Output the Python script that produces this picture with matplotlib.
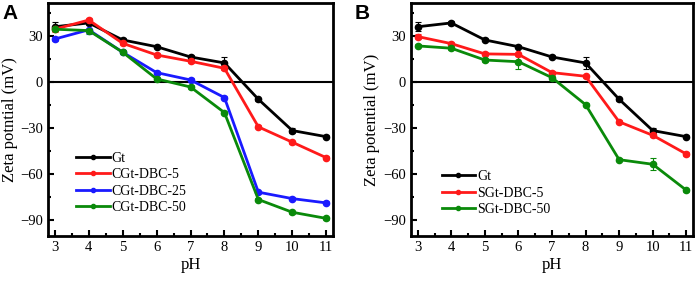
import matplotlib
matplotlib.use("Agg")
import matplotlib.pyplot as plt
from matplotlib.ticker import MultipleLocator
from matplotlib.lines import Line2D

ph = [3, 4, 5, 6, 7, 8, 9, 10, 11]

gt = [36, 38.5, 27.4, 23, 16.3, 12.4, -11.3, -31.7, -35.7]
gt_err = [3, 1.5, 1, 1, 1, 4, 1, 1.5, 1]

cgt5 = [34.4, 40.4, 25.2, 17.6, 13.5, 8.9, -29.3, -39.3, -49.4]
cgt5_err = [1.5, 1.5, 1, 1, 1, 1, 1, 1, 1]
cgt25 = [28, 34, 19.4, 6.1, 1.3, -10.2, -71.9, -76.1, -78.9]
cgt25_err = [1, 3, 1, 1, 1, 1, 1, 1, 1]
cgt50 = [34.4, 33.5, 19.4, 2, -3.3, -20, -76.7, -85, -89]
cgt50_err = [1, 1, 1, 1, 1, 1, 1, 1, 1]

sgt5 = [29.6, 25, 18.3, 18, 6.1, 3.7, -26, -34.8, -47]
sgt5_err = [1.5, 1, 1, 1, 1, 1, 1, 1, 1]
sgt50 = [23.5, 22, 14.3, 13.2, 2.8, -14.8, -50.7, -53.7, -70.6]
sgt50_err = [1, 1, 1, 4.5, 1, 1, 1, 4, 1]

panel_a = [("Gt", gt, gt_err, "#000000"),
           ("CGt-DBC-5", cgt5, cgt5_err, "#ff1a1a"),
           ("CGt-DBC-25", cgt25, cgt25_err, "#1a1aff"),
           ("CGt-DBC-50", cgt50, cgt50_err, "#0a8a0a")]
panel_b = [("Gt", gt, gt_err, "#000000"),
           ("SGt-DBC-5", sgt5, sgt5_err, "#ff1a1a"),
           ("SGt-DBC-50", sgt50, sgt50_err, "#0a8a0a")]

ylabel_a = "Zeta potntial (mV)"
ylabel_b = "Zeta potential (mV)"

plt.rcParams['font.family'] = ['Liberation Serif', 'DejaVu Serif']

fig = plt.figure(figsize=(6.99, 2.86), dpi=100)
axA = fig.add_axes([0.0687, 0.1748, 0.4077, 0.8147])
axB = fig.add_axes([0.588, 0.1748, 0.4034, 0.8147])

for ax, series, ylab, legpos in [(axA, panel_a, ylabel_a, (0.08, 0.07)),
                                 (axB, panel_b, ylabel_b, (0.089, 0.062))]:
    ax.axhline(0, color="black", lw=1.5, zorder=1)
    handles = []
    for name, vals, err, col in series:
        ax.errorbar(ph, vals, yerr=err, color=col, lw=2, marker="o", ms=4.5,
                    mec=col, mfc=col, capsize=2, elinewidth=0.8, capthick=0.8,
                    ecolor=col, zorder=3)
        handles.append(Line2D([], [], color=col, lw=2, marker="o", ms=3,
                              mec=col, mfc=col, label=name))
    ax.set_xlim(2.8, 11.2)
    ax.set_ylim(-100.5, 51.5)
    ax.xaxis.set_major_locator(MultipleLocator(1))
    ax.xaxis.set_minor_locator(MultipleLocator(0.5))
    ax.yaxis.set_major_locator(MultipleLocator(30))
    ax.yaxis.set_minor_locator(MultipleLocator(15))
    ax.tick_params(which="both", direction="in", width=1.5, labelsize=10.5)
    ax.tick_params(which="major", length=4)
    ax.tick_params(which="minor", length=2.5)
    for s in ax.spines.values():
        s.set_linewidth(2)
    ax.set_xlabel("pH", fontsize=12, labelpad=2)
    ax.set_ylabel(ylab, fontsize=12, labelpad=2)
    ax.legend(handles=handles, loc="lower left", bbox_to_anchor=legpos, frameon=False,
              fontsize=10, handlelength=2.4, handletextpad=0.15,
              labelspacing=0.25, borderaxespad=0)

fig.text(0.003, 0.985, "A", fontsize=15, fontweight="bold", family="Liberation Sans", va="top", ha="left")
fig.text(0.508, 0.985, "B", fontsize=15, fontweight="bold", family="Liberation Sans", va="top", ha="left")

fig.savefig("out.png", dpi=100)
